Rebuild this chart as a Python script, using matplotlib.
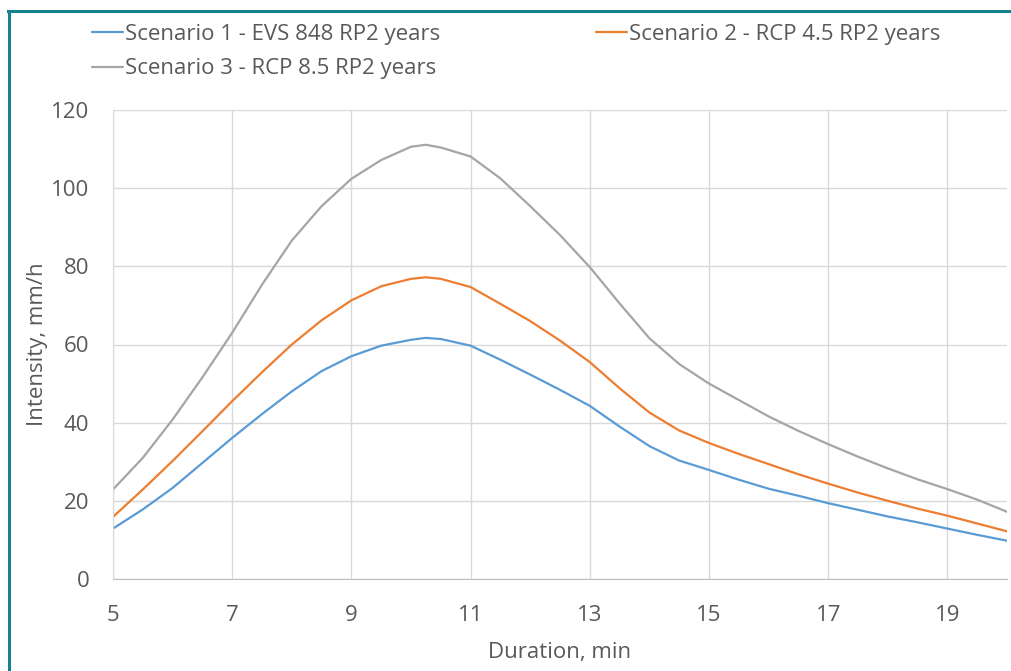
import matplotlib
matplotlib.use('Agg')
import matplotlib.pyplot as plt
from matplotlib.lines import Line2D

plt.rcParams['font.family'] = ['Open Sans', 'DejaVu Sans']

# Duration (min) and rainfall intensity (mm/h)
duration = [5, 5.5, 6, 6.5, 7, 7.5, 8, 8.5, 9, 9.5, 10, 10.25, 10.5, 11, 11.5, 12,
            12.5, 13, 13.5, 14, 14.5, 15, 15.5, 16, 16.5, 17, 17.5, 18, 18.5, 19, 19.5, 20]
scen1 = [12.9, 17.8, 23.3, 29.7, 36.1, 42.2, 48.0, 53.2, 57.0, 59.7, 61.2, 61.7, 61.4,
         59.7, 56.1, 52.3, 48.4, 44.3, 39.0, 34.0, 30.3, 27.9, 25.4, 23.1, 21.3, 19.4,
         17.7, 16.0, 14.5, 12.9, 11.3, 9.8]
scen2 = [15.9, 22.9, 30.2, 37.8, 45.5, 52.9, 60.0, 66.2, 71.3, 74.9, 76.8, 77.2, 76.8,
         74.7, 70.4, 66.0, 61.0, 55.5, 48.8, 42.6, 38.0, 34.8, 32.0, 29.4, 26.8, 24.4,
         22.1, 20.0, 18.0, 16.2, 14.2, 12.2]
scen3 = [22.9, 31.0, 40.8, 51.6, 63.0, 75.3, 86.6, 95.4, 102.4, 107.2, 110.6, 111.1, 110.4,
         108.1, 102.5, 95.4, 88.0, 79.8, 70.5, 61.6, 55.0, 50.0, 45.8, 41.6, 37.9, 34.5,
         31.3, 28.3, 25.5, 23.0, 20.3, 17.2]

labels = ['Scenario 1 - EVS 848 RP2 years',
          'Scenario 2 - RCP 4.5 RP2 years',
          'Scenario 3 - RCP 8.5 RP2 years']
colors = ['#5B9BD5', '#ED7D31', '#A5A5A5']

xticks = [5, 7, 9, 11, 13, 15, 17, 19]
yticks = [0, 20, 40, 60, 80, 100, 120]

fig = plt.figure(figsize=(10.12, 6.71), dpi=100)
ax = fig.add_axes([113/1012, 1 - 579/671, (1007-113)/1012, (579-110)/671])

lines = []
for vals, c in zip([scen1, scen2, scen3], colors):
    l, = ax.plot(duration, vals, color=c, lw=1.6, solid_capstyle='round',
                 solid_joinstyle='round')
    lines.append(l)

ax.set_xlim(5, 20)
ax.set_ylim(0, 120)
ax.set_xticks(xticks)
ax.set_yticks(yticks)
ax.grid(True, color='#d9d9d9', lw=1.0)
ax.set_axisbelow(True)
for s in ['top', 'right']:
    ax.spines[s].set_visible(False)
ax.spines['left'].set_color('#d9d9d9')
ax.spines['bottom'].set_color('#bfbfbf')
ax.tick_params(length=0, labelsize=16, labelcolor='#595959')
ax.tick_params(axis='y', pad=17)
ax.tick_params(axis='x', pad=18.5)

ax.set_xlabel('Duration, min', fontsize=16, color='#595959', labelpad=12)
ax.set_ylabel('Intensity, mm/h', fontsize=16, color='#595959', labelpad=2)

# legend: row 1 = scenario 1, 2 ; row 2 = scenario 3
order = [0, 2, 1]
leg = fig.legend([lines[i] for i in order], [labels[i] for i in order],
                 ncol=2, loc='upper left', bbox_to_anchor=(92/1012, 1 - 24/671),
                 frameon=False, fontsize=16, handlelength=1.4, handletextpad=0.1,
                 columnspacing=7.0, labelspacing=0.6, borderaxespad=0, borderpad=0)
for t in leg.get_texts():
    t.set_color('#595959')

# teal frame on the left and top
fig.add_artist(Line2D([9/1012, 9/1012], [0, 1 - 11/671], color='#17818D', lw=2.2,
                      transform=fig.transFigure))
fig.add_artist(Line2D([8/1012, 1], [1 - 11/671, 1 - 11/671], color='#17818D', lw=2.2,
                      transform=fig.transFigure))

fig.savefig('out.png', dpi=100)
